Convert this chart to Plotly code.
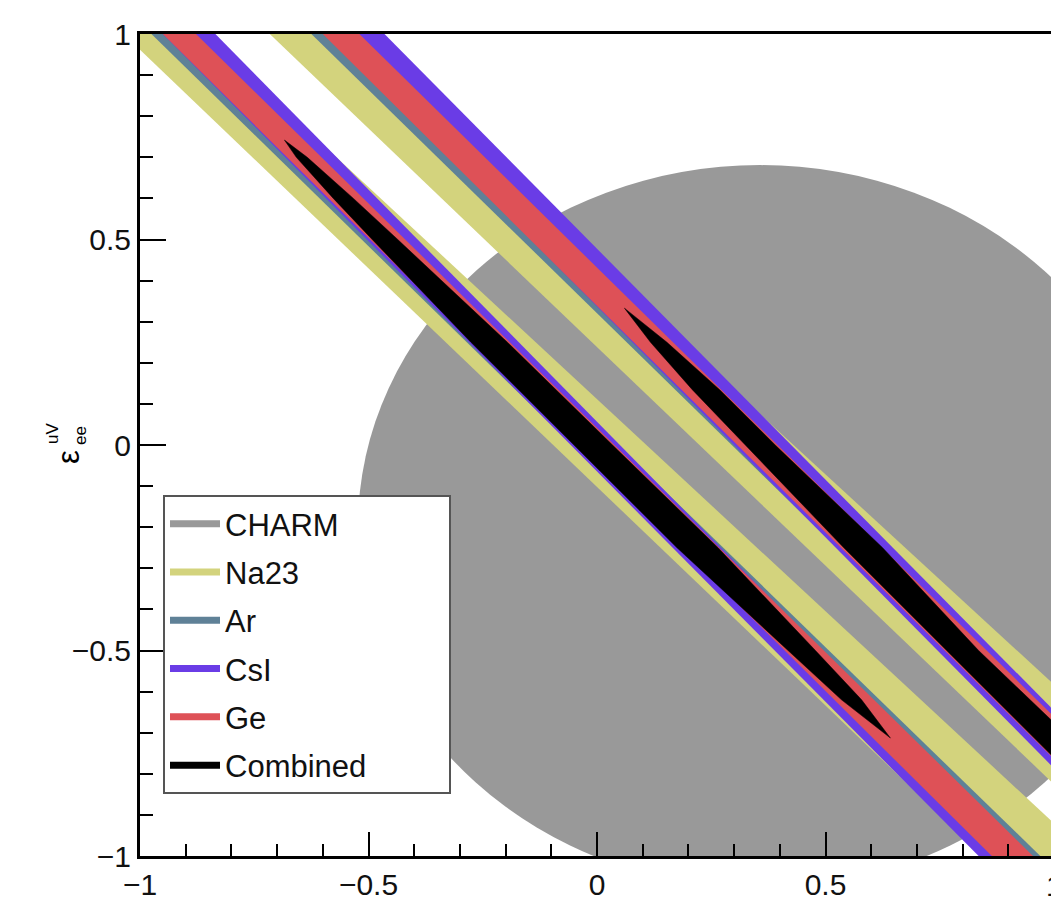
import plotly.graph_objects as go

# ---------------- data ----------------
# Each band edge is a straight line given by its x value at y = +1 and y = -1
EDGE_Y = [1.0, -1.0]

NA23_A_LEFT = [-1.036, 0.844]
NA23_A_RIGHT = [-0.861, 1.077]
NA23_B_LEFT = [-0.716, 1.164]
NA23_B_RIGHT = [-0.548, 1.408]

AR_A_LEFT = [-0.975, 0.865]
AR_A_RIGHT = [-0.880, 0.970]
AR_B_LEFT = [-0.625, 1.215]
AR_B_RIGHT = [-0.530, 1.310]

CSI_A_LEFT = [-0.950, 0.835]
CSI_A_RIGHT = [-0.835, 0.935]
CSI_B_LEFT = [-0.590, 1.190]
CSI_B_RIGHT = [-0.465, 1.315]

GE_A_LEFT = [-0.950, 0.864]
GE_A_RIGHT = [-0.8775, 0.954]
GE_B_LEFT = [-0.600, 1.214]
GE_B_RIGHT = [-0.520, 1.310]

# Combined allowed regions (thin slivers): boundary x at several y levels
COMB_A_Y = [0.742, 0.70, 0.60, 0.50, 0.25, 0.0, -0.25, -0.50, -0.62, -0.713]
COMB_A_LEFT = [-0.684, -0.658, -0.577, -0.492, -0.276, -0.050, 0.175, 0.418, 0.535, 0.642]
COMB_A_RIGHT = [-0.684, -0.634, -0.533, -0.436, -0.196, 0.034, 0.265, 0.478, 0.579, 0.642]

COMB_B_Y = [0.333, 0.25, 0.134, 0.0, -0.25, -0.5, -0.75, -1.0]
COMB_B_LEFT = [0.060, 0.117, 0.209, 0.325, 0.540, 0.765, 0.990, 1.215]
COMB_B_RIGHT = [0.060, 0.153, 0.269, 0.390, 0.625, 0.835, 1.070, 1.295]

# CHARM allowed disc
CHARM_CENTER = (0.357, -0.199)
CHARM_RADIUS = 0.88

NAMES = ["CHARM", "Na23", "Ar", "CsI", "Ge", "Combined"]
COLORS = {
    "CHARM": "#999999",
    "Na23": "#D3D37D",
    "Ar": "#5F8197",
    "CsI": "#6A3CE6",
    "Ge": "#DE5157",
    "Combined": "#000000",
}

X_RANGE = [-1.0, 0.9934]
Y_RANGE = [-1.0, 1.0]

FONT = "Liberation Sans, Arial, Helvetica, sans-serif"

fig = go.Figure()


def band(left, right, color):
    xs = [left[0], left[1], right[1], right[0], left[0]]
    ys = [EDGE_Y[0], EDGE_Y[1], EDGE_Y[1], EDGE_Y[0], EDGE_Y[0]]
    fig.add_trace(go.Scatter(x=xs, y=ys, mode="lines", fill="toself",
                             fillcolor=color, line=dict(width=0, color=color),
                             showlegend=False, hoverinfo="skip"))


def sliver(ys, left, right, color):
    xs = list(left) + list(right)[::-1] + [left[0]]
    yy = list(ys) + list(ys)[::-1] + [ys[0]]
    fig.add_trace(go.Scatter(x=xs, y=yy, mode="lines", fill="toself",
                             fillcolor=color, line=dict(width=0.5, color=color),
                             showlegend=False, hoverinfo="skip"))


band(NA23_A_LEFT, NA23_A_RIGHT, COLORS["Na23"])
band(NA23_B_LEFT, NA23_B_RIGHT, COLORS["Na23"])
band(AR_A_LEFT, AR_A_RIGHT, COLORS["Ar"])
band(AR_B_LEFT, AR_B_RIGHT, COLORS["Ar"])
band(CSI_A_LEFT, CSI_A_RIGHT, COLORS["CsI"])
band(CSI_B_LEFT, CSI_B_RIGHT, COLORS["CsI"])
band(GE_A_LEFT, GE_A_RIGHT, COLORS["Ge"])
band(GE_B_LEFT, GE_B_RIGHT, COLORS["Ge"])
sliver(COMB_A_Y, COMB_A_LEFT, COMB_A_RIGHT, COLORS["Combined"])
sliver(COMB_B_Y, COMB_B_LEFT, COMB_B_RIGHT, COLORS["Combined"])

# legend entries (one group each so the group gap spaces them)
PAD = "\u00a0" * 9
for i, name in enumerate(NAMES):
    label_text = name + (PAD if name == "Combined" else "")
    fig.add_trace(go.Scatter(x=[None], y=[None], mode="lines", name=label_text,
                             legendgroup=name,
                             line=dict(color=COLORS[name], width=7)))

cx, cy = CHARM_CENTER
fig.add_shape(type="circle", xref="x", yref="y",
              x0=cx - CHARM_RADIUS, x1=cx + CHARM_RADIUS,
              y0=cy - CHARM_RADIUS, y1=cy + CHARM_RADIUS,
              fillcolor=COLORS["CHARM"], line=dict(width=0), layer="below")

axis_common = dict(
    showgrid=False, zeroline=False, showline=True, linecolor="black",
    linewidth=3, ticks="inside", tickcolor="black", tickwidth=2,
    tickmode="linear", tick0=0, dtick=0.5,
    tickfont=dict(family=FONT, size=30, color="#111111"),
)

fig.update_xaxes(range=X_RANGE, mirror=True, ticklen=24,
                 minor=dict(dtick=0.1, tick0=0, ticks="inside", ticklen=12,
                            tickwidth=2, tickcolor="black", showgrid=False),
                 **axis_common)
fig.update_yaxes(range=Y_RANGE, mirror=False, ticklen=26,
                 minor=dict(dtick=0.1, tick0=0, ticks="inside", ticklen=13,
                            tickwidth=2, tickcolor="black", showgrid=False),
                 **axis_common)

W, H = 1051, 906
ML, MT, MB = 140, 34, 50
PW, PH = W - ML, H - MT - MB


def px(xp):
    return (xp - ML) / PW


def py(yp):
    return (H - MB - yp) / PH


def label(text, xp, yp, size, angle=0):
    fig.add_annotation(text=text, xref="paper", yref="paper", x=px(xp), y=py(yp),
                       xanchor="center", yanchor="middle", showarrow=False,
                       textangle=angle,
                       font=dict(family=FONT, size=size, color="black"))


# y-axis title: epsilon with stacked sub/superscript (rotated)
label("ε", 68, 457, 31, -90)
label("uV", 53, 434, 17, -90)
label("ee", 81, 436, 17, -90)

# x-axis title (almost entirely below the visible window, as in the reference)
label("ε", 590, 925, 30)
label("dV", 610, 913, 17)

# tick label "1" at the right end of the x axis (partly outside the window)
fig.add_annotation(text="1", xref="paper", yref="paper", x=px(1054), y=py(885),
                   xanchor="center", yanchor="middle", showarrow=False,
                   font=dict(family=FONT, size=30, color="#111111"))

fig.update_layout(
    width=W, height=H,
    margin=dict(l=ML, r=0, t=MT, b=MB, pad=0),
    plot_bgcolor="white", paper_bgcolor="white",
    font=dict(family=FONT, size=30, color="black"),
    showlegend=True,
    legend=dict(x=px(163), y=py(495), xanchor="left", yanchor="top",
                bgcolor="white", bordercolor="#555555", borderwidth=2,
                font=dict(family=FONT, size=31, color="#111111"),
                tracegroupgap=5, itemwidth=50, traceorder="grouped"),
)

fig.write_html("out.html", config={"displayModeBar": False},
               post_script="document.body.style.margin='0';document.body.style.overflow='hidden';")
